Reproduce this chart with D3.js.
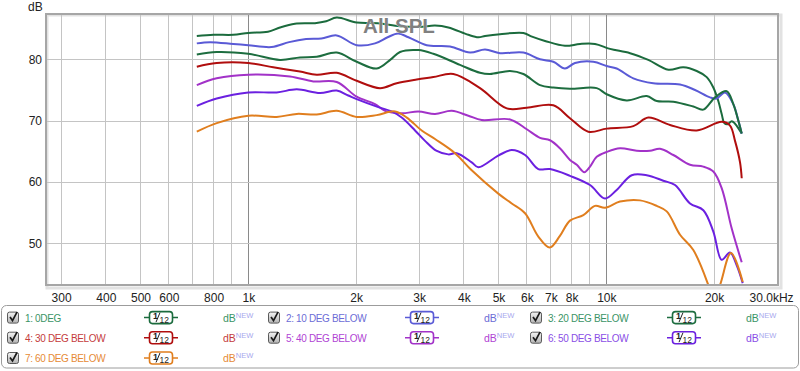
<!DOCTYPE html>
<html><head><meta charset="utf-8">
<script src="https://cdn.jsdelivr.net/npm/d3@7"></script>
<style>
body{margin:0;background:#fff;}
svg{display:block;font-family:"Liberation Sans",Arial,sans-serif;}
</style>
</head><body>
<svg id="c" width="800" height="371"></svg>
<script>
// ---------- data ----------
const seriesNames = ["1: 0DEG","2: 10 DEG BELOW","3: 20 DEG BELOW","4: 30 DEG BELOW","5: 40 DEG BELOW","6: 50 DEG BELOW","7: 60 DEG BELOW"];
const lineColors = ["#1b6b3d","#5a5ad6","#1d6d3f","#b00e0e","#a232c8","#6b20e0","#e07e1e"];
const textColors = ["#3a9466","#6c6cd6","#3a9466","#c43c3c","#b044d4","#8a4ee6","#e68a36"];

const s0deg = [[718,83.8],[800,84.0],[908,84.0],[1000,84.3],[1135,84.5],[1226,85.2],[1350,85.8],[1536,85.9],[1650,86.2],[1766,86.8],[2008,86.0],[2300,85.9],[2650,85.4],[3017,85.3],[3323,85.5],[3620,85.2],[4117,84.0],[4390,83.6],[4584,83.8],[5047,84.1],[5866,84.3],[6200,83.7],[6742,83.0],[7665,82.2],[8444,82.5],[9299,82.5],[10240,81.7],[11650,81.0],[13100,79.9],[14902,78.3],[16410,78.7],[17888,78.1],[19075,77.1],[19903,75.4],[20550,73.2],[21002,71.1],[21360,69.6],[21800,69.4],[22405,69.9],[22884,69.5],[23892,67.9]];
const s10deg = [[718,82.6],[782,82.8],[908,82.5],[1000,82.3],[1162,82.0],[1300,82.8],[1450,83.3],[1600,83.4],[1766,83.9],[2008,82.3],[2259,82.6],[2450,83.6],[2620,84.2],[2800,83.6],[3150,82.3],[3660,82.1],[4162,81.1],[4584,81.6],[5047,81.0],[5866,81.1],[6528,80.0],[7112,79.6],[7665,78.5],[8177,79.4],[9199,79.6],[10025,78.9],[10690,78.5],[11898,76.9],[13529,76.1],[16065,75.9],[17694,75.0],[19486,73.8],[20300,73.6],[21458,74.6],[22633,72.7],[23375,70.0],[23892,67.9]];
const s20deg = [[718,80.8],[816,81.2],[1000,80.9],[1226,79.9],[1394,80.3],[1553,80.4],[1766,81.1],[2008,79.6],[2284,78.5],[2500,80.0],[2653,81.2],[2985,81.5],[3287,80.9],[3902,79.1],[4438,77.8],[4732,77.6],[5383,78.1],[5866,77.6],[6528,75.8],[7112,75.4],[7916,75.2],[9402,75.3],[10025,74.3],[11400,73.3],[12966,74.0],[13829,73.2],[15390,73.1],[17500,72.3],[18663,71.8],[20120,73.8],[21692,74.8],[22633,72.7],[23375,70.0],[23892,67.9]];
const s30deg = [[718,78.8],[816,79.4],[1000,79.4],[1174,78.7],[1394,78.0],[1553,77.5],[1766,77.8],[2008,76.5],[2333,75.3],[2597,76.1],[2954,76.7],[3287,77.1],[3738,77.6],[4438,75.3],[5271,72.0],[5995,72.1],[7112,72.5],[7916,70.4],[8906,68.2],[10025,68.7],[11898,69.1],[13100,70.5],[15064,69.3],[17888,68.4],[21002,69.8],[22157,69.2],[22884,66.7],[23634,63.2],[23892,60.6]];
const s40deg = [[718,75.8],[816,76.9],[1000,77.5],[1308,77.2],[1519,76.4],[1766,76.3],[2008,73.9],[2259,72.7],[2409,71.6],[2682,71.2],[2985,71.5],[3323,71.1],[3700,71.6],[4117,70.8],[4487,70.1],[5383,70.2],[5995,68.6],[6528,67.2],[6962,66.8],[7420,65.5],[7916,63.6],[8270,62.8],[8682,61.6],[9005,62.5],[9402,64.1],[10025,64.9],[10920,65.5],[12160,65.1],[13243,65.1],[14125,65.4],[15390,64.4],[17133,62.8],[18663,62.5],[19903,61.7],[21002,59.0],[22405,52.4],[23892,46.9]];
const s50deg = [[718,72.4],[816,73.6],[1000,74.6],[1200,74.6],[1365,75.1],[1586,74.5],[1766,74.9],[1902,74.1],[2008,73.5],[2307,72.2],[2515,71.5],[2682,70.5],[2922,68.4],[3116,66.7],[3350,65.1],[3620,64.5],[3820,64.7],[4207,63.2],[4390,62.4],[4992,64.3],[5443,65.2],[5929,64.4],[6458,62.1],[6962,62.1],[7916,61.0],[9005,59.5],[9917,57.3],[10690,58.7],[11776,61.1],[12966,61.1],[14428,60.2],[15557,59.5],[17133,56.5],[18663,55.4],[19903,51.9],[21002,47.3],[22157,48.5],[23134,46.4],[24046,43.5]];
const s60deg = [[718,68.2],[816,69.6],[1000,70.8],[1200,70.6],[1365,71.1],[1553,71.0],[1766,71.6],[2008,70.6],[2284,70.9],[2569,71.5],[2771,70.5],[3050,68.4],[3323,67.0],[3779,64.7],[4207,61.9],[4992,58.1],[5443,56.5],[5929,54.9],[6458,51.1],[6950,49.3],[7420,51.2],[7916,53.7],[8627,54.6],[9299,56.1],[9917,55.8],[10920,56.8],[12420,57.0],[13829,56.1],[14748,55.2],[16065,51.4],[17500,48.9],[19274,43.2],[19900,40.6],[20777,43.2],[22300,48.4],[24046,43.7]];
const seriesData = [s0deg,s10deg,s20deg,s30deg,s40deg,s50deg,s60deg];

const xTickValues = [300,400,500,600,800,1000,2000,3000,4000,5000,6000,7000,8000,10000,20000,30000];
const xTickLabels = ["300","400","500","600","800","1k","2k","3k","4k","5k","6k","7k","8k","10k","20k","30.0kHz"];
const xGridValues = [300,400,500,600,700,800,900,1000,2000,3000,4000,5000,6000,7000,8000,9000,10000,20000];
const xMajorGrid = [1000,10000];
const yTickValues = [50,60,70,80];
const titleText = "All SPL";
const yUnit = "dB";

// ---------- layout ----------
const svg = d3.select("#c");
const L = 46, T = 14, R = 778, B = 285;
const x = d3.scaleLog().domain([272.2, 30170]).range([L, R]);
const y = d3.scaleLinear().domain([43.2, 87.39]).range([B, T]);

svg.append("defs").append("clipPath").attr("id","plotclip")
  .append("rect").attr("x",L).attr("y",T).attr("width",R-L).attr("height",B-T);

// shadow
svg.append("rect").attr("x",L+1).attr("y",T+1).attr("width",R-L+2).attr("height",B-T+2)
  .attr("fill","none").attr("stroke","#e2e2e2").attr("stroke-width",3);

const grid = svg.append("g");
grid.selectAll("line.gx").data(xGridValues).join("line")
  .attr("x1",d=>x(d)).attr("x2",d=>x(d)).attr("y1",T).attr("y2",B)
  .attr("stroke",d=>xMajorGrid.includes(d)?"#8a8a8a":"#c4c4c4").attr("stroke-width",1)
  .attr("shape-rendering","crispEdges");
grid.selectAll("line.gy").data(yTickValues).join("line")
  .attr("x1",L).attr("x2",R).attr("y1",d=>Math.round(y(d))+0.5).attr("y2",d=>Math.round(y(d))+0.5)
  .attr("stroke","#c4c4c4").attr("stroke-width",1);

// axes
const xAxis = svg.append("g").attr("transform",`translate(0,${B})`)
  .call(d3.axisBottom(x).tickValues(xTickValues).tickFormat((d,i)=>xTickLabels[i]).tickSize(0).tickPadding(8.5));
xAxis.select(".domain").remove();
xAxis.selectAll("text").attr("font-size",12).attr("font-family","Liberation Sans, Arial, sans-serif").attr("fill","#222");
xAxis.selectAll(".tick").filter(d=>d===30000).select("text").attr("text-anchor","end").attr("dx",16);

const yAxis = svg.append("g").attr("transform",`translate(${L},0)`)
  .call(d3.axisLeft(y).tickValues(yTickValues).tickFormat(d3.format("d")).tickSize(0).tickPadding(4));
yAxis.select(".domain").remove();
yAxis.selectAll("text").attr("font-size",12).attr("font-family","Liberation Sans, Arial, sans-serif").attr("fill","#222");

svg.append("text").attr("x",28).attr("y",11).attr("font-size",12).attr("fill","#222").text(yUnit);

// lines
const line = d3.line().x(d=>x(d[0])).y(d=>y(d[1])).curve(d3.curveCatmullRom.alpha(0.5));
const lines = svg.append("g").attr("clip-path","url(#plotclip)");
seriesData.forEach((s,i)=>{
  lines.append("path").datum(s).attr("d",line).attr("fill","none")
    .attr("stroke",lineColors[i]).attr("stroke-width",2).attr("stroke-linejoin","round");
});

// frame
svg.append("rect").attr("x",L).attr("y",T).attr("width",R-L).attr("height",B-T)
  .attr("fill","none").attr("stroke","#a6a6a6").attr("stroke-width",2);

// title
svg.append("text").attr("x",399).attr("y",33).attr("text-anchor","middle")
  .attr("font-size",20.5).attr("font-weight","bold").attr("fill","#808080")
  .attr("stroke","#ffffff").attr("stroke-width",0.6).attr("paint-order","stroke")
  .text(titleText);

// ---------- legend ----------
svg.append("rect").attr("x",1.5).attr("y",305.5).attr("width",797).attr("height",62.5).attr("rx",5)
  .attr("fill","#fff").attr("stroke","#9c9c9c");
const grad = svg.select("defs").append("linearGradient").attr("id","cbg").attr("x1",0).attr("y1",0).attr("x2",0).attr("y2",1);
grad.append("stop").attr("offset","0%").attr("stop-color","#f4f4f4");
grad.append("stop").attr("offset","100%").attr("stop-color","#b4b4b4");

const colX = [7,268,530];
const rowY = [317.6,337.7,358.0];
seriesNames.forEach((name,i)=>{
  const x0 = colX[i%3], c = rowY[Math.floor(i/3)];
  const g = svg.append("g");
  g.append("rect").attr("x",x0+0.5).attr("y",c-5.5).attr("width",11).attr("height",11).attr("rx",2)
    .attr("fill","url(#cbg)").attr("stroke","#5a5a5a");
  g.append("path").attr("d",`M${x0+3},${c-0.5} L${x0+5.5},${c+3} L${x0+10},${c-5.5}`)
    .attr("fill","none").attr("stroke","#1a1a1a").attr("stroke-width",1.7);
  g.append("text").attr("x",x0+18).attr("y",c+4).attr("font-size",10).attr("letter-spacing",-0.35)
    .attr("fill",textColors[i]).text(name);
  // filter icon
  const ix = x0+138;
  g.append("line").attr("x1",ix-1).attr("x2",ix+33).attr("y1",c).attr("y2",c).attr("stroke",lineColors[i]).attr("stroke-width",1.5);
  g.append("rect").attr("x",ix+4.5).attr("y",c-6).attr("width",23).attr("height",12).attr("rx",3)
    .attr("fill","#fff").attr("stroke",lineColors[i]).attr("stroke-width",1.6);
  g.append("text").attr("x",ix+8).attr("y",c+1.5).attr("font-size",9).attr("font-weight","bold").attr("fill","#222").text("1");
  g.append("line").attr("x1",ix+11).attr("y1",c+4.5).attr("x2",ix+15).attr("y2",c-5).attr("stroke","#222").attr("stroke-width",1);
  g.append("text").attr("x",ix+14.5).attr("y",c+5).attr("font-size",8.5).attr("fill","#222").text("12");
  // dB NEW
  const dbt = g.append("text").attr("x",x0+216).attr("y",c+4).attr("font-size",10.5).attr("fill",textColors[i]);
  dbt.append("tspan").text("dB");
  dbt.append("tspan").attr("dy",-4).attr("font-size",7.5).attr("fill","#a8a8ee").text("NEW");
});
</script>
</body></html>
